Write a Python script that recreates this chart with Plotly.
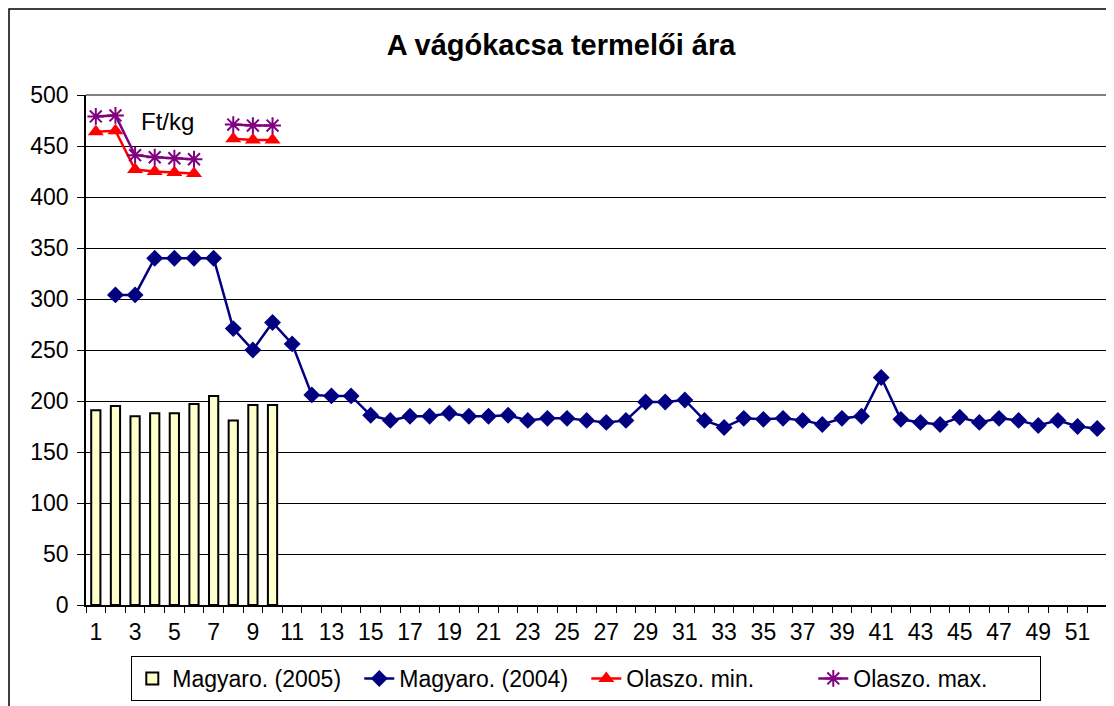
import plotly.graph_objects as go

weeks = list(range(1, 53))
x_ticks = list(range(1, 52, 2))
magyar_2005 = [191, 195, 185, 188, 188, 197, 205, 181, 196, 196]
magyar_2004 = [None, 304, 304, 340, 340, 340, 340, 271, 250, 277,
               256, 206, 205, 205, 186, 181, 185, 185, 188, 185,
               185, 186, 181, 183, 183, 181, 179, 181, 199, 199,
               201, 181, 174, 183, 182, 183, 181, 177, 183, 185,
               223, 182, 179, 177, 184, 179, 183, 181, 176, 181,
               175, 173]
olasz_min = [464, 465, 427, 425, 424, 423, None, 457, 456, 456]
olasz_max = [479, 480, 441, 439, 438, 437, None, 471, 470, 470]

FONT = "Liberation Sans, Arial, sans-serif"

fig = go.Figure()
fig.add_trace(go.Bar(
    x=weeks[:len(magyar_2005)], y=magyar_2005, name="Magyaro. (2005)",
    marker=dict(color="#FFFFCC", line=dict(color="black", width=2)),
    width=0.47,
))
fig.add_trace(go.Scatter(
    x=weeks, y=magyar_2004, name="Magyaro. (2004)", mode="lines+markers",
    line=dict(color="#000080", width=2.5),
    marker=dict(symbol="diamond", size=13, color="#000080"),
))
fig.add_trace(go.Scatter(
    x=weeks[:len(olasz_min)], y=olasz_min, name="Olaszo. min.", mode="lines+markers",
    line=dict(color="#FF0000", width=2.5),
    marker=dict(symbol="triangle-up", size=14, color="#FF0000"),
))
fig.add_trace(go.Scatter(
    x=weeks[:len(olasz_max)], y=olasz_max, name="Olaszo. max.", mode="lines+markers",
    line=dict(color="#800080", width=2.5),
    marker=dict(symbol="asterisk-open", size=14, color="#800080",
                line=dict(color="#800080", width=2)),
))

# page has an 8px body margin: figure sized/offset to place plot area at 86..1107 x 95..605
W, H = 1106, 698
ML, MR, MT, MB = 78, 7, 87, 101
PW = W - ML - MR
PH = H - MT - MB

fig.update_layout(
    width=W, height=H,
    margin=dict(l=ML, r=MR, t=MT, b=MB, autoexpand=False),
    paper_bgcolor="white", plot_bgcolor="white",
    font=dict(family=FONT, size=23, color="black"),
    title=dict(text="<b>A vágókacsa termelői ára</b>", x=0.5, xanchor="center",
               y=1 - (45 - 8) / H, yanchor="middle", font=dict(size=29, family=FONT)),
    showlegend=True,
    legend=dict(orientation="h", x=0.49, xanchor="center",
                y=-(656 - 605) / PH, yanchor="top",
                bordercolor="black", borderwidth=1, font=dict(size=23),
                entrywidth=182, entrywidthmode="pixels",
                traceorder="normal", tracegroupgap=0),
    bargap=0.5,
)
fig.update_xaxes(
    range=[0.5, 52.5], tickmode="array", tickvals=x_ticks,
    ticktext=[str(v) for v in x_ticks],
    ticks="", showgrid=False, showline=True, linecolor="black", linewidth=1.5,
    tickfont=dict(size=23), zeroline=False, ticklabelstandoff=6,
    minor=dict(tickmode="array", tickvals=[v + 0.5 for v in range(0, 53)],
               ticks="outside", ticklen=6, tickcolor="black", showgrid=False),
)
fig.update_yaxes(
    range=[0, 500], tickmode="array", tickvals=list(range(0, 501, 50)),
    ticks="outside", ticklen=7, tickcolor="black",
    showgrid=True, gridcolor="black", gridwidth=1,
    showline=True, linecolor="black", linewidth=1.5, zeroline=False,
    tickfont=dict(size=23), ticklabelstandoff=4,
)
# plot area border (top/right in grey)
fig.add_shape(type="line", xref="paper", yref="paper", x0=0, x1=1, y0=1, y1=1,
              line=dict(color="#808080", width=2))
fig.add_shape(type="line", xref="paper", yref="paper", x0=1, x1=1, y0=0, y1=1,
              line=dict(color="#808080", width=2))
# outer chart border
fig.add_shape(type="rect", xref="paper", yref="paper",
              x0=(9 - 86) / PW, x1=1.05, y0=-0.25, y1=(605 - 9) / PH,
              line=dict(color="black", width=1.5), layer="below")
fig.add_annotation(text="Ft/kg", xref="x", yref="y", x=4.63, y=474,
                   showarrow=False, font=dict(size=24, family=FONT))

fig.write_html("out.html")
